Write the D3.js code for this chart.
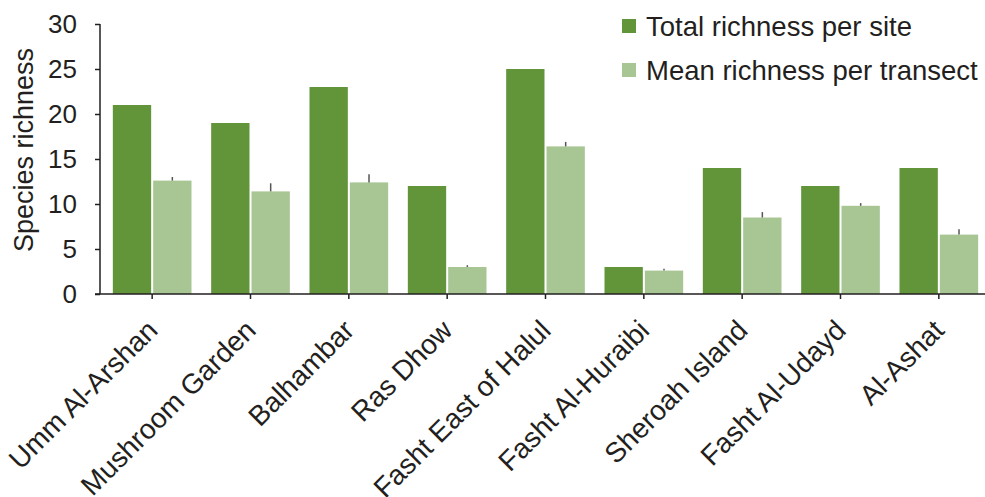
<!DOCTYPE html>
<html lang="en">
<head>
    <meta charset="UTF-8">
    <script src="https://d3js.org/d3.v7.min.js"></script>
    <style>
        body { margin: 0; background: #fff; }
        text { font-family: "Liberation Sans", Arial, sans-serif; fill: #231f20; }
        .axis path, .axis line { stroke: #231f20; stroke-width: 1.5px; }
        .yaxis text { font-size: 26px; }
        .xaxis text { font-size: 28px; }
    </style>
</head>
<body>
    <svg id="chart"></svg>
    <script>
        const sites = ["Umm Al-Arshan", "Mushroom Garden", "Balhambar", "Ras Dhow", "Fasht East of Halul",
                       "Fasht Al-Huraibi", "Sheroah Island", "Fasht Al-Udayd", "Al-Ashat"];
        const totalRichness = [21, 19, 23, 12, 25, 3, 14, 12, 14];
        const meanRichness = [12.6, 11.4, 12.4, 3.0, 16.4, 2.6, 8.5, 9.8, 6.6];
        const meanError = [0.4, 0.9, 0.9, 0.2, 0.5, 0.2, 0.6, 0.3, 0.6];
        const yTicks = [0, 5, 10, 15, 20, 25, 30];
        const seriesNames = ["Total richness per site", "Mean richness per transect"];
        const colors = ["#62943a", "#a8c594"];

        const width = 985, height = 497;
        const margin = { top: 24, right: 0, bottom: 203, left: 100 };

        const svg = d3.select("#chart")
            .attr("width", width)
            .attr("height", height);

        const x = d3.scaleBand()
            .domain(sites)
            .range([margin.left + 3, 988])
            .paddingInner(0.2)
            .paddingOuter(0.1);

        const x1 = d3.scaleBand()
            .domain([0, 1])
            .range([0, x.bandwidth()])
            .paddingInner(0.05);

        const y = d3.scaleLinear()
            .domain([0, 30])
            .range([height - margin.bottom, margin.top]);

        // bars
        const groups = svg.selectAll(".site")
            .data(sites)
            .enter().append("g")
            .attr("transform", d => `translate(${x(d)},0)`);

        groups.append("rect")
            .attr("x", x1(0))
            .attr("width", x1.bandwidth())
            .attr("y", (d, i) => y(totalRichness[i]))
            .attr("height", (d, i) => y(0) - y(totalRichness[i]))
            .attr("fill", colors[0]);

        groups.append("rect")
            .attr("x", x1(1))
            .attr("width", x1.bandwidth())
            .attr("y", (d, i) => y(meanRichness[i]))
            .attr("height", (d, i) => y(0) - y(meanRichness[i]))
            .attr("fill", colors[1]);

        // upper error bars only
        groups.append("line")
            .attr("x1", x1(1) + x1.bandwidth() / 2)
            .attr("x2", x1(1) + x1.bandwidth() / 2)
            .attr("y1", (d, i) => y(meanRichness[i]))
            .attr("y2", (d, i) => y(meanRichness[i] + meanError[i]))
            .attr("stroke", "#555")
            .attr("stroke-width", 1.5);

        // axes
        svg.append("g")
            .attr("class", "axis yaxis")
            .attr("transform", `translate(${margin.left},0)`)
            .call(d3.axisLeft(y).tickValues(yTicks).tickSize(5).tickPadding(18).tickSizeOuter(0))
            .call(g => g.select(".domain").attr("d", `M0,${y(30)}V${y(0)}`));

        const xAxis = svg.append("g")
            .attr("class", "axis xaxis")
            .attr("transform", `translate(0,${y(0)})`)
            .call(d3.axisBottom(x).tickSize(5).tickSizeOuter(0))
            .call(g => g.select(".domain").attr("d", `M${margin.left - 5},0H${width}`));

        xAxis.selectAll("text")
            .attr("text-anchor", "end")
            .attr("x", 0)
            .attr("y", 0)
            .attr("dy", 0)
            .attr("transform", "translate(7,38) rotate(-45)");

        // y title
        svg.append("text")
            .attr("transform", "translate(33,150) rotate(-90)")
            .attr("text-anchor", "middle")
            .style("font-size", "27px")
            .text("Species richness");

        // legend
        const legend = svg.selectAll(".legend")
            .data(seriesNames)
            .enter().append("g")
            .attr("transform", (d, i) => `translate(622,${19 + i * 44})`);

        legend.append("rect")
            .attr("width", 14)
            .attr("height", 14)
            .attr("fill", (d, i) => colors[i]);

        legend.append("text")
            .attr("x", 24)
            .attr("y", 7)
            .attr("dy", "0.35em")
            .style("font-size", "27.5px")
            .text(d => d);
    </script>
</body>
</html>
